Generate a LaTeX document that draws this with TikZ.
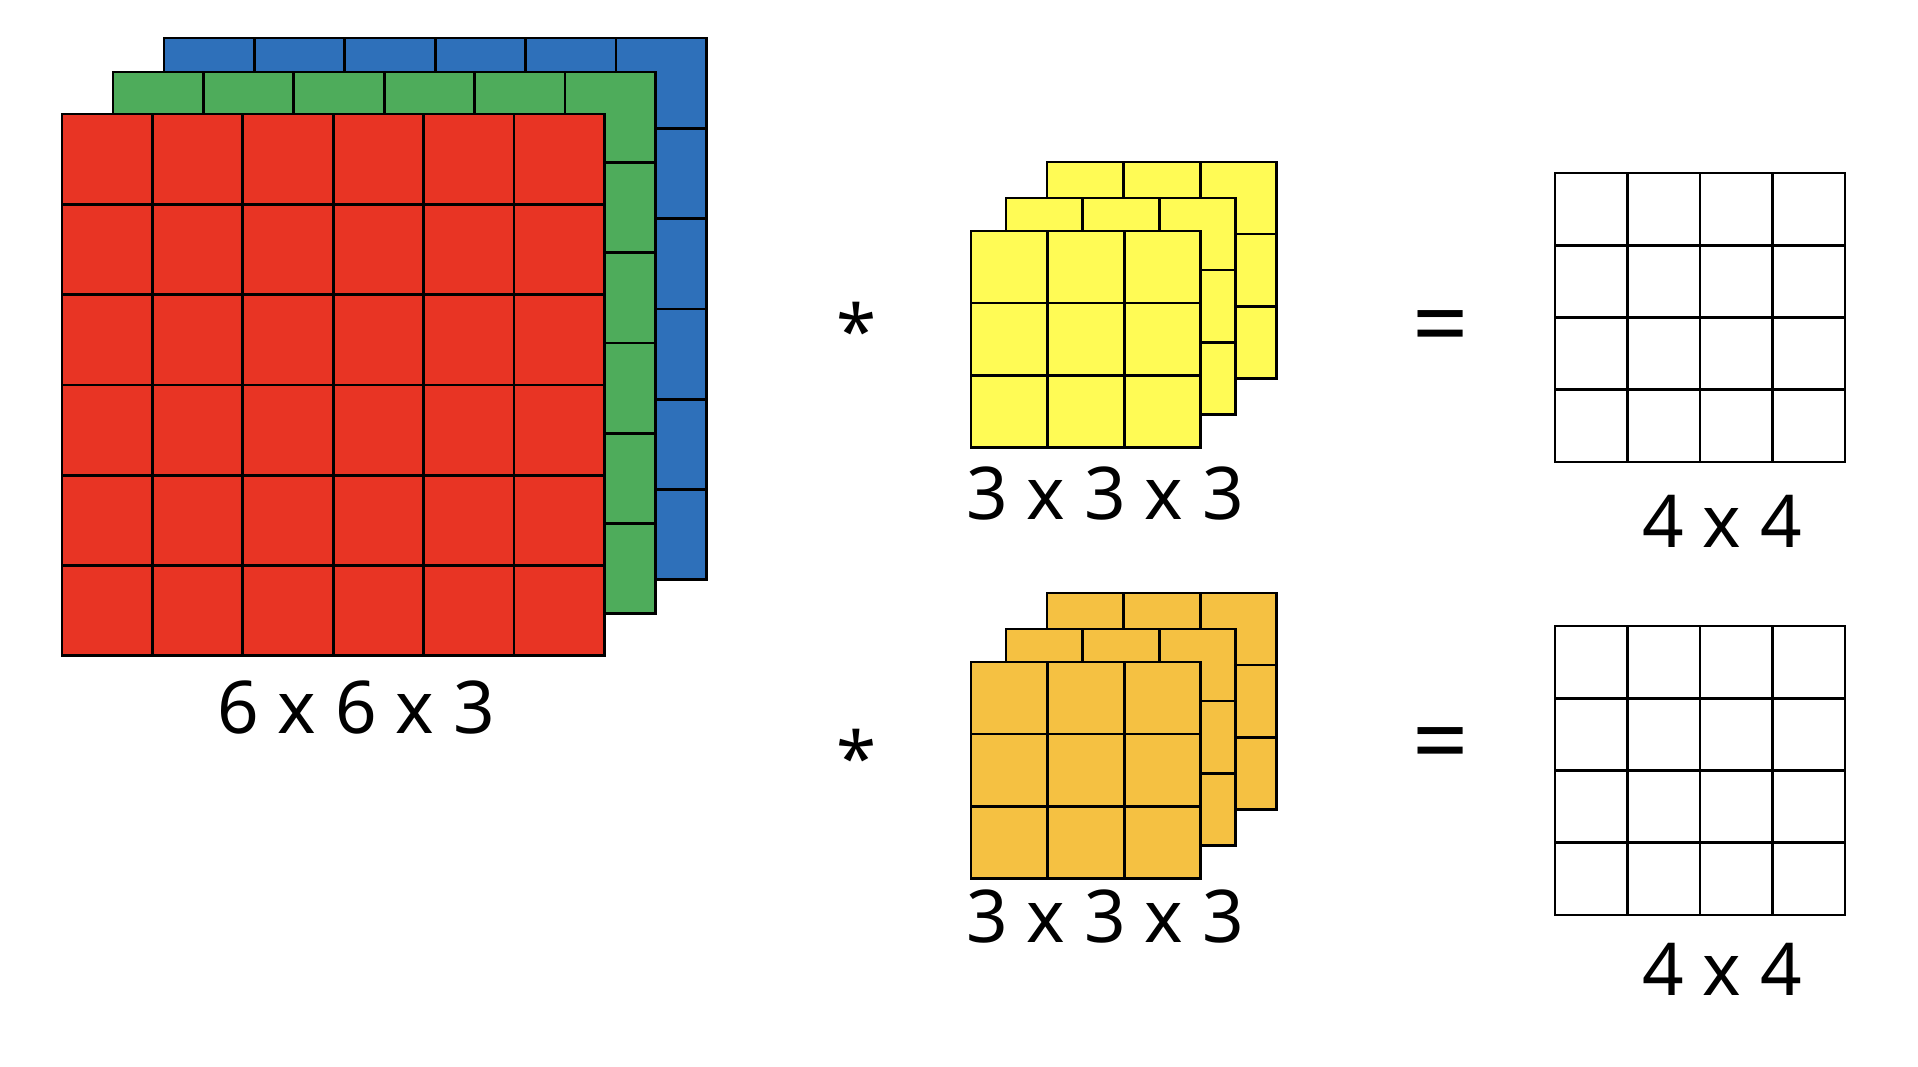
\documentclass[tikz,border=0pt]{standalone}
\usepackage{fontspec}
\setmainfont{Noto Sans}
\usepackage{tikz}
\usetikzlibrary{calc}

\definecolor{chred}{HTML}{E83424}
\definecolor{chgreen}{HTML}{4EAC5B}
\definecolor{chblue}{HTML}{2E70BA}
\definecolor{kyellow}{HTML}{FFFB55}
\definecolor{korange}{HTML}{F5C142}

\tikzset{
  cellline/.style={black, line width=0.75pt, line cap=rect},
  lbl/.style={font=\fontsize{20.7}{25}\selectfont, inner sep=0pt},
  eqsign/.style={font=\fontsize{28}{32}\selectfont, inner sep=0pt}
}

% x, y, cell width, cell height, cells, colour
\newcommand{\sheet}[6]{%
  \fill[#6] (#1,#2) rectangle ++({#5*#3},{#5*#4});
  \foreach \m in {0,...,#5}{
    \draw[cellline] ({#1+\m*#3},#2) -- ++(0,{#5*#4});
    \draw[cellline] (#1,{#2+\m*#4}) -- ++({#5*#3},0);
  }%
}

\begin{document}
\begin{tikzpicture}[x=0.01cm, y=-0.01cm]
  \useasboundingbox (0,0) rectangle (1918,1066);

  % input volume
  \sheet{164}{38}{90.4}{90.3}{6}{chblue}
  \sheet{113}{72}{90.4}{90.3}{6}{chgreen}
  \sheet{62}{114}{90.4}{90.3}{6}{chred}
  \node[lbl] (inlbl) at (356,707) {6 x 6 x 3};

  % first filter
  \node[lbl, anchor=base] (stara) at (857,357) {*};
  \sheet{1047}{162}{76.6}{72.1}{3}{kyellow}
  \sheet{1006}{198}{76.6}{72.1}{3}{kyellow}
  \sheet{971}{231}{76.6}{72.1}{3}{kyellow}
  \node[lbl] (kerlbla) at (1105,493) {3 x 3 x 3};
  \node[eqsign, anchor=base] (eqa) at (1441,358) {=};
  \sheet{1555}{173}{72.5}{72.25}{4}{white}
  \node[lbl] (outlbla) at (1722,521) {4 x 4};

  % second filter
  \node[lbl, anchor=base] (starb) at (857,784) {*};
  \sheet{1047}{593}{76.6}{72.1}{3}{korange}
  \sheet{1006}{629}{76.6}{72.1}{3}{korange}
  \sheet{971}{662}{76.6}{72.1}{3}{korange}
  \node[lbl] (kerlblb) at (1105,916) {3 x 3 x 3};
  \node[eqsign, anchor=base] (eqb) at (1441,775) {=};
  \sheet{1555}{626}{72.5}{72.25}{4}{white}
  \node[lbl] (outlblb) at (1722,969) {4 x 4};
\end{tikzpicture}
\end{document}
